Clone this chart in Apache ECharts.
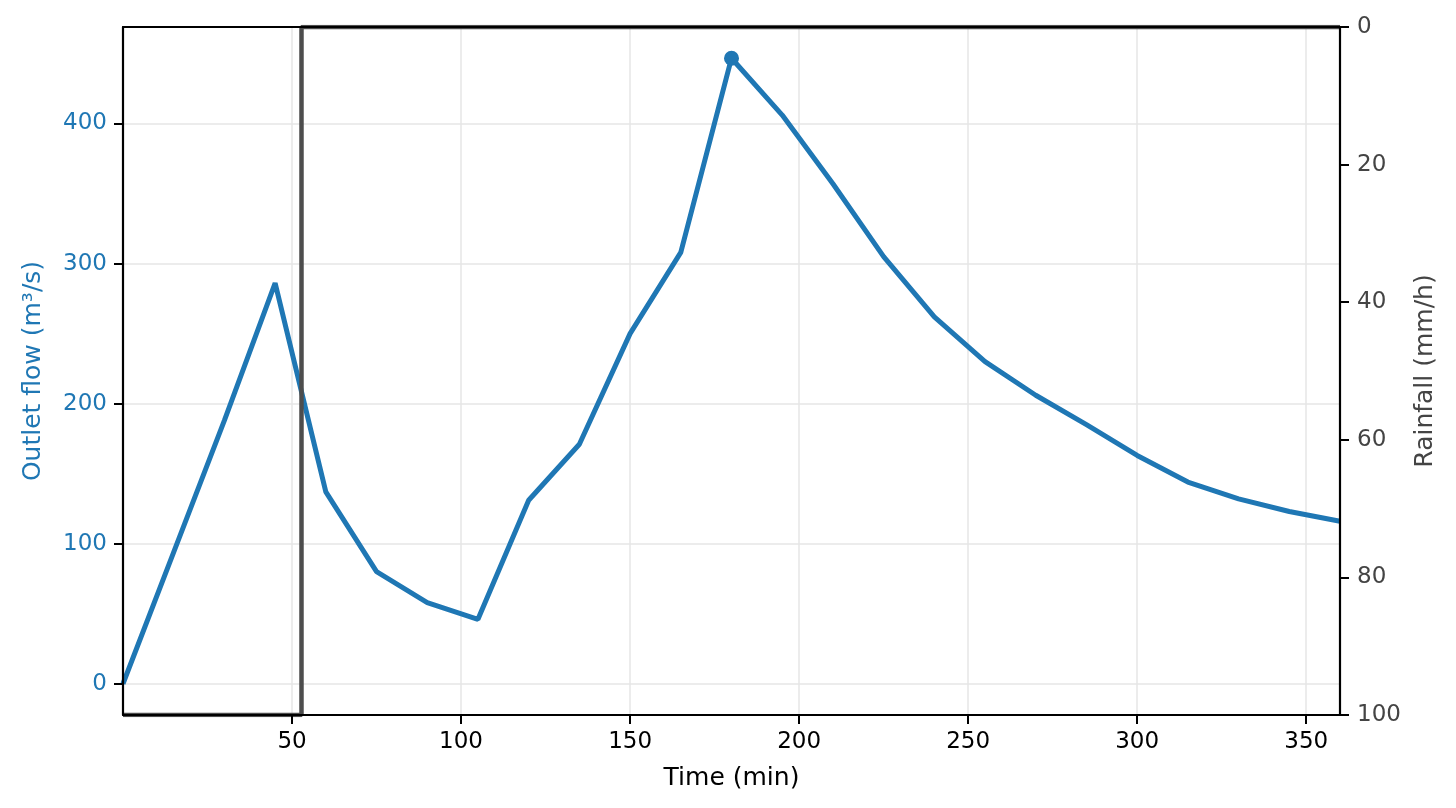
<!DOCTYPE html>
<html>
<head>
<meta charset="utf-8">
<script src="https://cdn.jsdelivr.net/npm/echarts@6/dist/echarts.min.js"></script>
<style>
html,body{margin:0;padding:0;background:#fff;}
#chart{width:1456px;height:808px;}
</style>
</head>
<body>
<div id="chart"></div>
<script>
// Time (min) and outlet flow (m³/s)
var timeMin = [0, 15, 30, 45, 60, 75, 90, 105, 120, 135, 150, 165, 180, 195, 210, 225, 240, 255, 270, 285, 300, 315, 330, 345, 360];
var outletFlow = [0, 94, 188, 286, 137, 80, 58, 46, 131, 171, 250, 308, 446.6, 406, 357, 305, 262, 230, 206, 185, 163, 144, 132, 123, 116];
// Rainfall step (mm/h)
var rainTime = [0, 52.8, 360];
var rainValue = [100, 0, 0];
// Peak marker
var peakTime = [180];
var peakFlow = [446.6];
// Tick labels
var xTicks = [50, 100, 150, 200, 250, 300, 350];

var FONT = 'DejaVu Sans';
var BLUE = '#1f77b4';
var GRAY = '#444444';

function pairs(xs, ys) { return xs.map(function (x, i) { return [x, ys[i]]; }); }

var chart = echarts.init(document.getElementById('chart'), null, {renderer: 'canvas'});
var flowMin = -22.3, flowMax = 468.9;

chart.setOption({
  animation: false,
  backgroundColor: '#ffffff',
  grid: {left: 123, right: 116, top: 27, bottom: 93, containLabel: false},
  xAxis: [
    {
      type: 'value', min: 0, max: 360, interval: 50, position: 'bottom', z: 5,
      name: 'Time (min)', nameLocation: 'middle', nameGap: 51,
      nameTextStyle: {color: '#000', fontFamily: FONT, fontSize: 25},
      axisLine: {show: true, onZero: false, lineStyle: {color: '#000', width: 2.2}},
      axisTick: {show: true, length: 9, inside: false, customValues: xTicks, lineStyle: {color: '#000', width: 2}},
      axisLabel: {show: true, margin: 16, customValues: xTicks, color: '#000', fontFamily: FONT, fontSize: 23},
      splitLine: {show: false}
    },
    {
      type: 'value', min: 0, max: 360, position: 'top', z: 5,
      axisLine: {show: true, onZero: false, lineStyle: {color: '#000', width: 2.2}},
      axisTick: {show: false}, axisLabel: {show: false}, splitLine: {show: false}
    },
    {
      type: 'value', min: 0, max: 360, interval: 50, position: 'bottom', z: 0,
      axisLine: {show: false}, axisTick: {show: false}, axisLabel: {show: false},
      splitLine: {show: true, lineStyle: {color: '#e6e6e6', width: 1.5}}
    }
  ],
  yAxis: [
    {
      type: 'value', min: flowMin, max: flowMax, splitNumber: 5, minInterval: 100, maxInterval: 100,
      position: 'left', z: 5,
      name: 'Outlet flow (m³/s)', nameLocation: 'middle', nameGap: 77, nameRotate: 90,
      nameTextStyle: {color: BLUE, fontFamily: FONT, fontSize: 25},
      axisLine: {show: true, onZero: false, lineStyle: {color: '#000', width: 2.2}},
      axisTick: {show: true, length: 9, lineStyle: {color: '#000', width: 2}},
      axisLabel: {show: true, margin: 16, padding: [4, 0, 0, 0], color: BLUE, fontFamily: FONT, fontSize: 23, showMinLabel: false, showMaxLabel: false},
      splitLine: {show: false}
    },
    {
      type: 'value', min: 0, max: 100, interval: 20, inverse: true, position: 'right', z: 5,
      name: 'Rainfall (mm/h)', nameLocation: 'middle', nameGap: 73, nameRotate: 90,
      nameTextStyle: {color: GRAY, fontFamily: FONT, fontSize: 25},
      axisLine: {show: true, onZero: false, lineStyle: {color: '#000', width: 2.2}},
      axisTick: {show: true, length: 9, lineStyle: {color: '#000', width: 2}},
      axisLabel: {show: true, margin: 17, padding: [4, 0, 0, 0], color: GRAY, fontFamily: FONT, fontSize: 23},
      splitLine: {show: false}
    },
    {
      type: 'value', min: flowMin, max: flowMax, splitNumber: 5, minInterval: 100, maxInterval: 100,
      position: 'left', z: 0,
      axisLine: {show: false}, axisTick: {show: false}, axisLabel: {show: false},
      splitLine: {show: true, lineStyle: {color: '#e6e6e6', width: 1.5}}
    }
  ],
  series: [
    {
      type: 'line', name: 'Outlet flow', xAxisIndex: 0, yAxisIndex: 0,
      data: pairs(timeMin, outletFlow), showSymbol: false, symbol: 'none',
      lineStyle: {color: BLUE, width: 5}, z: 2
    },
    {
      type: 'scatter', name: 'Peak', xAxisIndex: 0, yAxisIndex: 0,
      data: pairs(peakTime, peakFlow), symbol: 'circle', symbolSize: 15,
      itemStyle: {color: BLUE, opacity: 1}, z: 3
    },
    {
      type: 'line', name: 'Rainfall', xAxisIndex: 0, yAxisIndex: 1,
      data: pairs(rainTime, rainValue), step: 'end', showSymbol: false, symbol: 'none',
      lineStyle: {color: '#4d4d4d', width: 4.5}, z: 4, clip: true
    }
  ]
});
</script>
</body>
</html>
